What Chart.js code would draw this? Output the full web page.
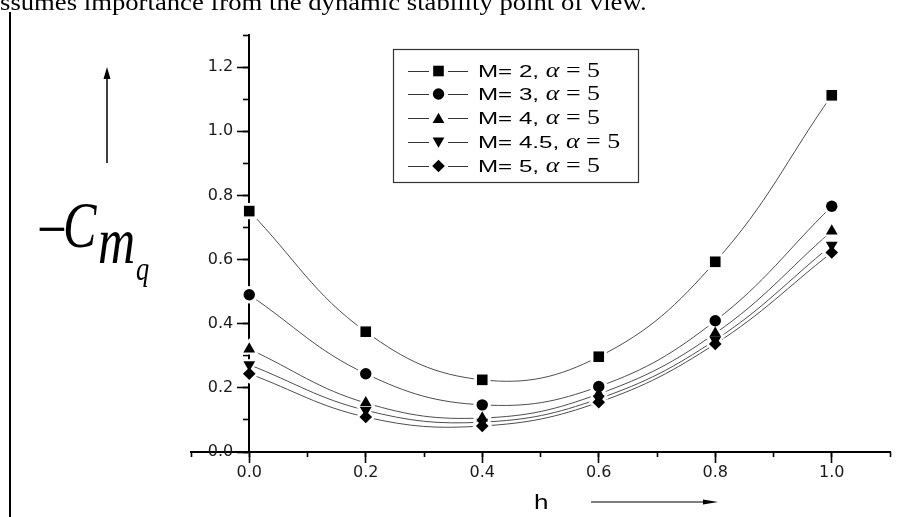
<!DOCTYPE html>
<html>
<head>
<meta charset="utf-8">
<script src="https://cdn.jsdelivr.net/npm/chart.js@4"></script>
<style>
  html, body { margin: 0; padding: 0; background: #fff; }
  #wrap { width: 910px; height: 517px; position: relative; }
</style>
</head>
<body>
<div id="wrap"><canvas id="c" width="910" height="517"></canvas></div>
<script>
// h positions and -Cmq values for each Mach number (alpha = 5)
const hValues = [0, 0.2, 0.4, 0.6, 0.8, 1.0];
const seriesLabels = ['M= 2, ', 'M= 3, ', 'M= 4, ', 'M= 4.5, ', 'M= 5, '];
const alphaLabel = 'α';
const alphaValue = ' = 5';
const cmqM2  = [0.751, 0.375, 0.225, 0.297, 0.593, 1.112];
const cmqM3  = [0.490, 0.244, 0.147, 0.204, 0.409, 0.766];
const cmqM4  = [0.321, 0.153, 0.106, 0.181, 0.370, 0.689];
const cmqM45 = [0.272, 0.130, 0.093, 0.166, 0.349, 0.645];
const cmqM5  = [0.244, 0.109, 0.081, 0.155, 0.337, 0.622];
const xTickValues = [0, 0.2, 0.4, 0.6, 0.8, 1.0];
const yTickValues = [0, 0.2, 0.4, 0.6, 0.8, 1.0, 1.2];
const topLine = 'ssumes importance from the dynamic stability point of view.';

const allSeries = [cmqM2, cmqM3, cmqM4, cmqM45, cmqM5];
const markers = [
  { style: 'rect', radius: 7.5, rotation: 0, halo: 11.5 },
  { style: 'circle', radius: 5.7, rotation: 0, halo: 8.7 },
  { style: 'triangle', radius: 6.8, rotation: 0, halo: 11 },
  { style: 'triangle', radius: 6.8, rotation: 180, halo: 11 },
  { style: 'rectRot', radius: 6.3, rotation: 0, halo: 10 }
];

const toPoints = arr => arr.map((v, i) => ({ x: hValues[i], y: v }));

const datasets = [];
allSeries.forEach((arr, i) => {
  // smooth curve through the points
  datasets.push({
    label: seriesLabels[i] + alphaLabel + alphaValue,
    data: toPoints(arr),
    showLine: true,
    borderColor: '#4d4d4d',
    borderWidth: 1,
    tension: 0.4,
    pointRadius: 0,
    fill: false,
    order: 3
  });
  // white clearing around each symbol so the curve stops short of it
  datasets.push({
    data: toPoints(arr),
    showLine: false,
    pointStyle: markers[i].style,
    pointRotation: markers[i].rotation,
    pointRadius: markers[i].halo,
    pointBackgroundColor: '#ffffff',
    pointBorderWidth: 0,
    order: 2
  });
  // filled symbol
  datasets.push({
    data: toPoints(arr),
    showLine: false,
    pointStyle: markers[i].style,
    pointRotation: markers[i].rotation,
    pointRadius: markers[i].radius,
    pointBackgroundColor: '#000000',
    pointBorderColor: '#000000',
    pointBorderWidth: 0,
    order: 1
  });
});

function stretchedText(ctx, text, x, y, sx) {
  ctx.save();
  ctx.translate(x, y);
  ctx.scale(sx, 1);
  ctx.fillText(text, 0, 0);
  const w = ctx.measureText(text).width * sx;
  ctx.restore();
  return w;
}

function marker(ctx, m, x, y, r, color) {
  ctx.save();
  ctx.fillStyle = color;
  ctx.strokeStyle = color;
  Chart.helpers.drawPoint(ctx, { pointStyle: m.style, radius: r, rotation: m.rotation, borderWidth: 0 }, x, y);
  ctx.restore();
}

const decorations = {
  id: 'decorations',
  afterDraw(chart) {
    const ctx = chart.ctx;
    ctx.save();

    // running text line above the figure
    ctx.fillStyle = '#000';
    ctx.font = '23px "Liberation Serif"';
    ctx.textBaseline = 'alphabetic';
    stretchedText(ctx, topLine, 0, 10, 1.16);

    // page rule on the left
    ctx.strokeStyle = '#000';
    ctx.lineWidth = 2;
    ctx.beginPath();
    ctx.moveTo(10, 12);
    ctx.lineTo(10, 517);
    ctx.stroke();

    // upward arrow beside the y label
    ctx.lineWidth = 1.5;
    ctx.beginPath();
    ctx.moveTo(107, 163);
    ctx.lineTo(107, 76);
    ctx.stroke();
    ctx.beginPath();
    ctx.moveTo(107, 67);
    ctx.lineTo(103.5, 79);
    ctx.lineTo(110.5, 79);
    ctx.closePath();
    ctx.fill();

    // y label  -C m q
    ctx.font = '66px "Liberation Serif"';
    stretchedText(ctx, '\u2212', 37, 251, 0.8);
    ctx.font = 'italic 66px "Liberation Serif"';
    stretchedText(ctx, 'C', 63, 247, 0.76);
    stretchedText(ctx, 'm', 98, 263, 0.78);
    ctx.font = 'italic 33px "Liberation Serif"';
    stretchedText(ctx, 'q', 136, 280, 0.8);

    // x label h with arrow
    ctx.font = '20px "Liberation Sans"';
    stretchedText(ctx, 'h', 534, 509, 1.3);
    ctx.lineWidth = 1.2;
    ctx.beginPath();
    ctx.moveTo(591, 502);
    ctx.lineTo(706, 502);
    ctx.stroke();
    ctx.beginPath();
    ctx.moveTo(718, 502);
    ctx.lineTo(703, 499.5);
    ctx.lineTo(703, 504.5);
    ctx.closePath();
    ctx.fill();

    // legend
    const bx = 393.5, by = 49.5, bw = 245, bh = 133;
    ctx.fillStyle = '#fff';
    ctx.fillRect(bx, by, bw, bh);
    ctx.strokeStyle = '#333';
    ctx.lineWidth = 1.2;
    ctx.strokeRect(bx, by, bw, bh);
    const rowY0 = 70.5, rowStep = 23.8;
    seriesLabels.forEach((lab, i) => {
      const y = Math.round(rowY0 + i * rowStep);
      const m = markers[i];
      ctx.strokeStyle = '#333';
      ctx.lineWidth = 1;
      ctx.beginPath();
      ctx.moveTo(408, y + 0.5);
      ctx.lineTo(429, y + 0.5);
      ctx.moveTo(448, y + 0.5);
      ctx.lineTo(468, y + 0.5);
      ctx.stroke();
      const my = m.style === 'triangle' ? (m.rotation ? y - 1 : y + 1.5) : y;
      marker(ctx, m, 438.5, my, m.radius, '#000');
      ctx.fillStyle = '#000';
      ctx.textBaseline = 'middle';
      ctx.font = '17px "Liberation Sans"';
      let x = 478;
      x += stretchedText(ctx, lab, x, y + 1, 1.42);
      ctx.font = 'italic 20px "Liberation Serif"';
      x += stretchedText(ctx, alphaLabel, x, y + 1, 1.3);
      ctx.font = '20px "Liberation Serif"';
      stretchedText(ctx, alphaValue, x, y + 1, 1.3);
    });

    ctx.restore();
  }
};

const tickFont = { family: 'DejaVu Sans', size: 16 };
// y labels sit left of the ticks: two en spaces carry them past the tick marks
const yLabel = v => Number(v).toFixed(1) + '\u2002\u2002';

new Chart(document.getElementById('c'), {
  type: 'scatter',
  data: { datasets },
  options: {
    responsive: false,
    animation: false,
    events: [],
    layout: { padding: { left: 191, right: 20, top: 35, bottom: 65 } },
    plugins: { legend: { display: false }, tooltip: { enabled: false } },
    scales: {
      x: {
        type: 'linear', min: -0.1, max: 1.1, position: { y: 0 },
        afterBuildTicks: s => { s.ticks = xTickValues.map(v => ({ value: v })); },
        ticks: { callback: v => Number(v).toFixed(1), font: tickFont, color: '#1a1a1a', padding: 1, maxRotation: 0, autoSkip: false },
        grid: { drawOnChartArea: false, drawTicks: true, tickLength: 10, tickWidth: 1.6, tickColor: '#000' },
        border: { display: true, color: '#000', width: 2 }
      },
      xMinor: {
        type: 'linear', axis: 'x', min: -0.1, max: 1.1, position: { y: 0 },
        ticks: { stepSize: 0.1, display: false },
        grid: { drawOnChartArea: false, drawTicks: true, tickLength: 5, tickWidth: 1.6, tickColor: '#000' },
        border: { display: false }
      },
      y: {
        type: 'linear', min: 0, max: 1.3, position: { x: 0 },
        afterBuildTicks: s => { s.ticks = yTickValues.map(v => ({ value: v })); },
        ticks: { callback: yLabel, font: tickFont, color: '#1a1a1a', padding: 6 },
        grid: { drawOnChartArea: false, drawTicks: true, tickLength: 11, tickWidth: 1.6, tickColor: '#000' },
        border: { display: true, color: '#000', width: 2 }
      },
      yMinor: {
        type: 'linear', axis: 'y', min: 0, max: 1.3, position: { x: 0 },
        ticks: { stepSize: 0.1, display: false },
        grid: { drawOnChartArea: false, drawTicks: true, tickLength: 6, tickWidth: 1.6, tickColor: '#000' },
        border: { display: false }
      }
    }
  },
  plugins: [decorations]
});
</script>
</body>
</html>
